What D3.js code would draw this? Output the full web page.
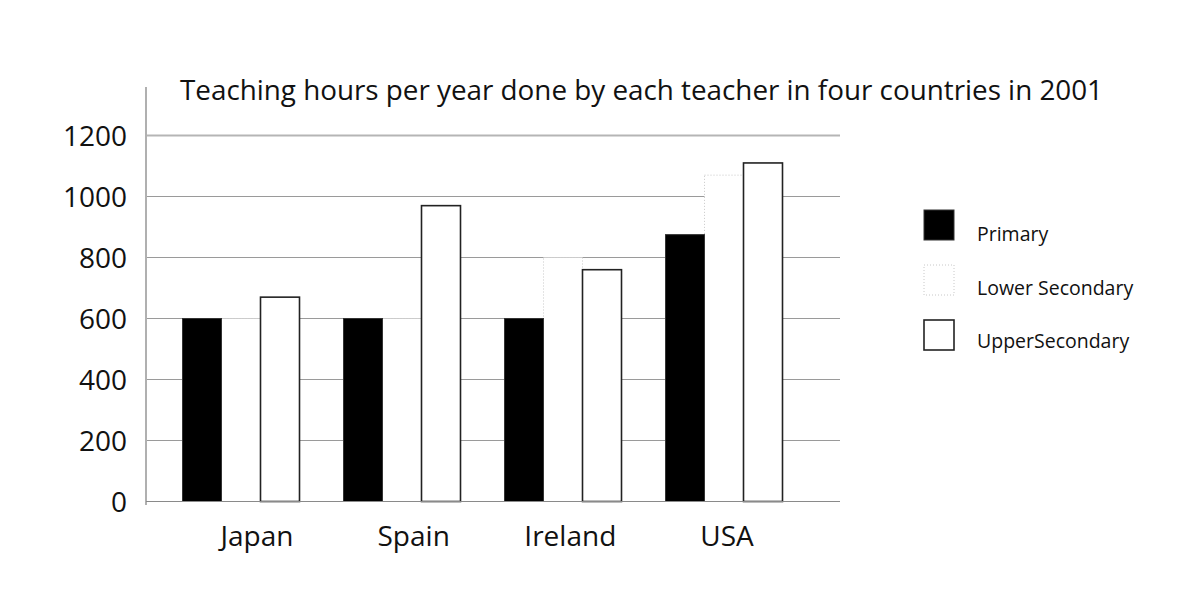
<!DOCTYPE html>
<html>
<head>
<meta charset="utf-8">
<script src="https://cdn.jsdelivr.net/npm/d3@7"></script>
<style>
  html, body { margin: 0; padding: 0; background: #fff; }
  text { font-family: "Open Sans", "Noto Sans", sans-serif; fill: #111; }
</style>
</head>
<body>
<svg id="chart" width="1200" height="604"></svg>
<script>
const countries = ["Japan", "Spain", "Ireland", "USA"];
const seriesNames = ["Primary", "Lower Secondary", "UpperSecondary"];
const primary = [600, 600, 600, 875];
const lowerSecondary = [600, 600, 800, 1070];
const upperSecondary = [670, 970, 760, 1110];
const yTicks = [0, 200, 400, 600, 800, 1000, 1200];
const title = "Teaching hours per year done by each teacher in four countries in 2001";

const svg = d3.select("#chart");
const values = [primary, lowerSecondary, upperSecondary];

const y = d3.scaleLinear().domain([0, 1200]).range([501.5, 135.5]);
const xGroup = d3.scalePoint().domain(countries).range([241, 724]);
const xLabel = d3.scalePoint().domain(countries).range([257, 727]);
const xSeries = d3.scaleBand().domain(seriesNames).range([-58.5, 58.5]).padding(0);

const plotLeft = 146, plotRight = 840;

// gridlines
svg.append("g").selectAll("line").data(yTicks).join("line")
  .attr("x1", plotLeft).attr("x2", plotRight)
  .attr("y1", d => y(d)).attr("y2", d => y(d))
  .attr("stroke", d => d === 1200 ? "#b5b5b5" : "#9a9a9a")
  .attr("stroke-width", d => d === 1200 ? 2 : 1.2);

// y axis line
svg.append("line")
  .attr("x1", plotLeft).attr("x2", plotLeft)
  .attr("y1", 87).attr("y2", 505)
  .attr("stroke", "#b0b0b0").attr("stroke-width", 2);

// tick labels
svg.append("g").selectAll("text").data(yTicks).join("text")
  .attr("x", 127).attr("y", d => y(d))
  .attr("dy", "0.36em")
  .attr("text-anchor", "end")
  .style("font-size", "28px")
  .text(d => d);

// bars
const styles = {
  "Primary": { fill: "#000", stroke: "#333", sw: 1, dash: null },
  "Lower Secondary": { fill: "#fff", stroke: "#c8c8c8", sw: 1, dash: "1,2" },
  "UpperSecondary": { fill: "#fff", stroke: "#222", sw: 1.6, dash: null }
};
const barData = [];
seriesNames.forEach((s, si) => {
  countries.forEach((c, ci) => barData.push({ s, c, v: values[si][ci] }));
});
const order = ["Lower Secondary", "Primary", "UpperSecondary"];
barData.sort((a, b) => order.indexOf(a.s) - order.indexOf(b.s));
svg.append("g").selectAll("rect").data(barData).join("rect")
  .attr("x", d => xGroup(d.c) + xSeries(d.s))
  .attr("width", xSeries.bandwidth())
  .attr("y", d => y(d.v))
  .attr("height", d => y(0) - y(d.v))
  .attr("fill", d => styles[d.s].fill)
  .attr("stroke", d => styles[d.s].stroke)
  .attr("stroke-width", d => styles[d.s].sw)
  .attr("stroke-dasharray", d => styles[d.s].dash);

// baseline redraw
svg.append("line")
  .attr("x1", plotLeft).attr("x2", plotRight)
  .attr("y1", y(0)).attr("y2", y(0))
  .attr("stroke", "#8a8a8a").attr("stroke-width", 1.2);

// category labels
svg.append("g").selectAll("text").data(countries).join("text")
  .attr("x", d => xLabel(d)).attr("y", 546)
  .attr("text-anchor", "middle")
  .style("font-size", "28px")
  .text(d => d);

// title
svg.append("text")
  .attr("x", 180).attr("y", 100)
  .style("font-size", "28px")
  .attr("textLength", 923)
  .attr("lengthAdjust", "spacingAndGlyphs")
  .text(title);

// legend
const legendY = d3.scalePoint().domain(seriesNames).range([210, 320]);
const lg = svg.append("g").selectAll("g").data(seriesNames).join("g")
  .attr("transform", d => `translate(924, ${legendY(d)})`);
lg.append("rect")
  .attr("width", 30).attr("height", 30)
  .attr("fill", d => styles[d].fill)
  .attr("stroke", d => styles[d].stroke)
  .attr("stroke-width", d => styles[d].sw)
  .attr("stroke-dasharray", d => styles[d].dash);
lg.append("text")
  .attr("x", 53).attr("y", (d, i) => [31, 30, 28][i])
  .style("font-size", "19.5px")
  .text(d => d);
</script>
</body>
</html>
